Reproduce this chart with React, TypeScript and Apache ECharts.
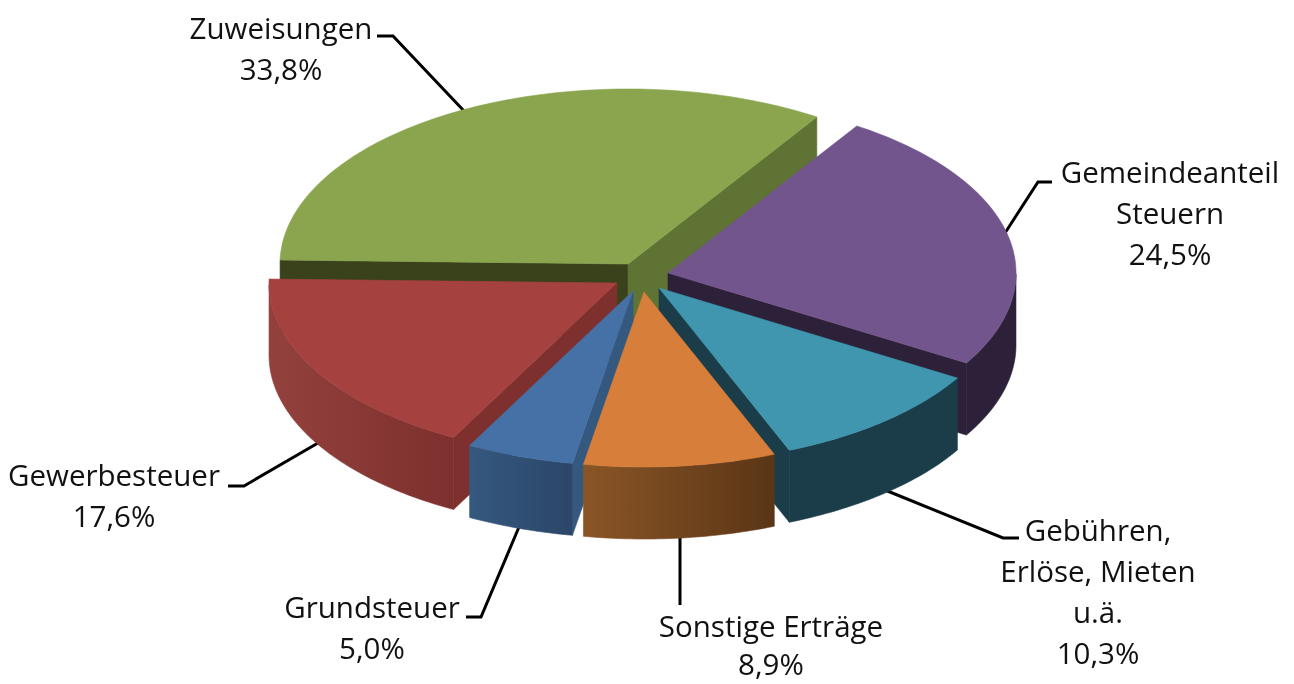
import React, { useEffect, useRef } from "react";
import * as echarts from "echarts";

// ---- data ----
const categories = ["Zuweisungen", "Gemeindeanteil\nSteuern", "Gebühren,\nErlöse, Mieten\nu.ä.", "Sonstige Erträge", "Grundsteuer", "Gewerbesteuer"];
const shares = [33.8, 24.5, 10.3, 8.9, 5.0, 17.6];

// ---- styling and layout ----
const topColors = ["#8aa54e", "#72558c", "#3f96ae", "#d77f3a", "#4571a7", "#a54240"];
const startFaceColors = ["#3a421c", "#2c2138", "#1a3d49", "#8a5526", "#35587f", "#7d302e"];
const endFaceColors = ["#5f7334", "#2c2138", "#1a3d49", "#5a3516", "#3a5f8f", "#7a302e"];
const wallLeft = ["#3a421c", "#2c2138", "#1a3d49", "#8a5526", "#35587f", "#93413d"];
const wallRight = ["#3a421c", "#2c2138", "#1a3d49", "#5a3516", "#2b4668", "#7d302e"];
const apexX = [628, 668, 659, 644, 633, 617];
const apexY = [264, 273, 288, 292, 291, 283];
const paintOrder = [0, 1, 3, 6, 5, 4];
const labelX = [281, 1170, 1098, 771, 372, 114];
const labelY = [27, 171, 529, 625, 606, 474];
const lineGap = [41, 41, 41, 38, 41, 41];
const leaders = [
  [[377, 36], [393, 36], [465, 112]],
  [[1052, 182], [1038, 182], [1005, 233]],
  [[1019, 538], [1003, 538], [885, 490]],
  [[680, 605], [680, 535]],
  [[466, 617], [481, 617], [519, 527]],
  [[228, 486], [244, 486], [318, 443]],
];
const RX = 348;
const RY = 175;
const DEPTH = 72;
const START_ANGLE = 178.7;
const FONT = "'Open Sans', sans-serif";
const FONT_SIZE = 29.5;

const formatShare = (v: number) => v.toFixed(1).replace(".", ",") + "%";
const total = shares.reduce((a, b) => a + b, 0);

function renderSlice(params: any, api: any) {
  const i = params.dataIndex;
  const value = api.value(0) as number;
  const before = shares.slice(0, i).reduce((a, b) => a + b, 0);
  const a0 = START_ANGLE - (before / total) * 360;
  const a1 = a0 - (value / total) * 360;
  const cx = apexX[i];
  const cy = apexY[i];
  const pt = (deg: number, dy = 0): number[] => {
    const r = (deg * Math.PI) / 180;
    return [cx + RX * Math.cos(r), cy - RY * Math.sin(r) + dy];
  };
  const rim: number[][] = [];
  const steps = Math.ceil(a0 - a1);
  for (let s = 0; s <= steps; s++) rim.push(pt(a0 + ((a1 - a0) * s) / steps));
  const mid = pt((a0 + a1) / 2);
  const z = paintOrder[i] * 10 + 10;
  const children: any[] = [];

  // A cut face shows when the drop below its edge falls outside the slice.
  const cutFace = (deg: number, color: string) => {
    const p = pt(deg);
    const ex = p[0] - cx;
    const ey = p[1] - cy;
    const side = ex * (mid[1] - cy) - ey * (mid[0] - cx);
    if (side * ex < 0) {
      children.push({
        type: "polygon",
        z2: z,
        shape: { points: [[cx, cy], p, [p[0], p[1] + DEPTH], [cx, cy + DEPTH]] },
        style: { fill: color, stroke: color, lineWidth: 0.6 },
      });
    }
  };
  cutFace(a0, startFaceColors[i]);
  cutFace(a1, endFaceColors[i]);

  // Outer wall: only the part of the rim on the viewer's side.
  const front: number[] = [];
  for (let s = 0; s <= steps; s++) {
    const deg = a0 + ((a1 - a0) * s) / steps;
    if (Math.sin((deg * Math.PI) / 180) <= 0) front.push(deg);
  }
  if (front.length > 1) {
    const upper = front.map((d) => pt(d));
    const lower = front.map((d) => pt(d, DEPTH)).reverse();
    const grad = () =>
      new echarts.graphic.LinearGradient(0, 0, 1, 0, [
        { offset: 0, color: wallLeft[i] },
        { offset: 1, color: wallRight[i] },
      ]);
    children.push({
      type: "polygon",
      z2: z + 1,
      shape: { points: upper.concat(lower) },
      style: { fill: grad(), stroke: grad(), lineWidth: 0.6 },
    });
  }

  // Top face
  children.push({
    type: "polygon",
    z2: z + 2,
    shape: { points: [[cx, cy], ...rim] },
    style: { fill: topColors[i], stroke: topColors[i], lineWidth: 0.6 },
  });

  // Leader line and label
  children.push({
    type: "polyline",
    z2: 1,
    shape: { points: leaders[i] },
    style: { stroke: "#000", lineWidth: 3, fill: "none" },
  });
  const lines = [...categories[i].split("\n"), formatShare(value)];
  lines.forEach((line, k) => {
    children.push({
      type: "text",
      z2: 200,
      style: {
        text: line,
        x: labelX[i],
        y: labelY[i] + k * lineGap[i],
        align: "center",
        verticalAlign: "middle",
        fill: "#111",
        font: `${FONT_SIZE}px ${FONT}`,
      },
    });
  });
  return { type: "group", children };
}

export default function App() {
  const ref = useRef<HTMLDivElement>(null);
  useEffect(() => {
    document.body.style.margin = "0";
    const chart = echarts.init(ref.current!, undefined, { renderer: "svg" });
    chart.setOption({
      animation: false,
      backgroundColor: "#fff",
      series: [
        {
          type: "custom",
          coordinateSystem: "none",
          renderItem: renderSlice,
          silent: true,
          data: shares.map((v, i) => ({ name: categories[i], value: [v] })),
        },
      ],
    });
    return () => chart.dispose();
  }, []);
  return <div ref={ref} style={{ width: 1294, height: 684, filter: "blur(0.5px)" }} />;
}
